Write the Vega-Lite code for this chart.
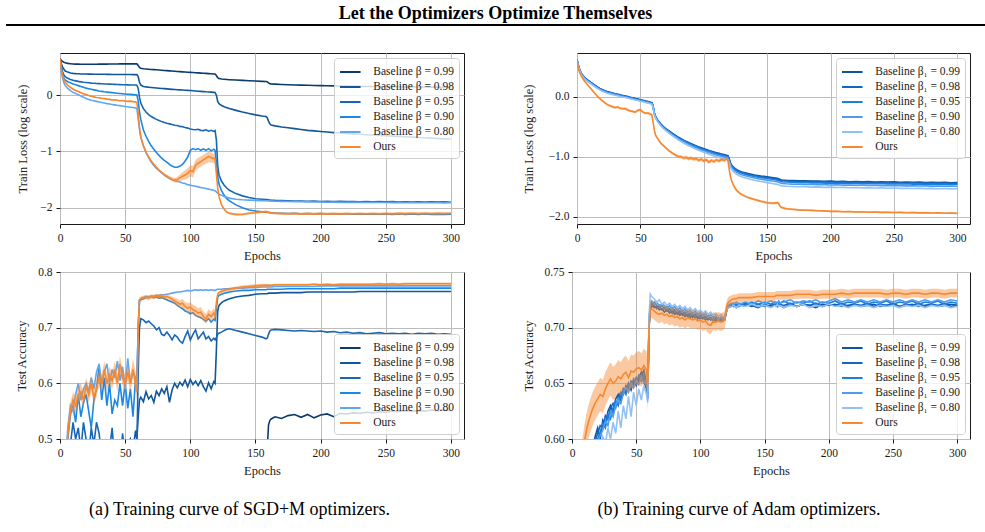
{
  "$schema": "https://vega.github.io/schema/vega-lite/v6.json",
  "padding": {"left": 6, "top": 5, "right": 0, "bottom": 0},
  "background": "white",
  "config": {
    "font": "Liberation Serif",
    "view": {"stroke": "#1a1a1a", "strokeWidth": 1},
    "axis": {"labelFont": "Liberation Serif", "labelFontSize": 11.5, "labelColor": "#1a1a1a", "titleFont": "Liberation Serif", "titleFontSize": 12.5, "titleFontWeight": "normal", "titleColor": "#1a1a1a", "gridColor": "#bcbcbc", "gridWidth": 1, "gridOpacity": 1, "domain": false, "tickColor": "#1a1a1a", "tickSize": 4, "tickWidth": 1, "labelPadding": 4, "titlePadding": 6},
    "axisX": {"labelFlush": false},
    "legend": {"labelFont": "Liberation Serif", "labelFontSize": 11.5, "labelColor": "#1a1a1a", "symbolType": "M-1.3,0H1.3", "symbolSize": 250, "symbolOffset": 2.3, "symbolStrokeWidth": 2, "fillColor": "rgba(255,255,255,0.8)", "strokeColor": "#cfcfcf", "cornerRadius": 3, "padding": 5, "rowPadding": 0, "labelOffset": 14, "offset": 5, "labelLimit": 0},
    "title": {"font": "Liberation Serif", "color": "#000"}
  },
  "resolve": {"scale": {"color": "independent"}, "legend": {"color": "independent"}},
  "datasets": {
    "tl": [
      {"e":0,"a":0.65,"b":0.65,"c":0.65,"d":0.65,"f":0.65,"o":0.65,"l":0.64,"h":0.66},
      {"e":1,"a":0.62,"b":0.56,"c":0.5,"d":0.46,"f":0.42,"o":0.46,"l":0.45,"h":0.47},
      {"e":2,"a":0.6,"b":0.5,"c":0.41,"d":0.36,"f":0.3,"o":0.35,"l":0.34,"h":0.36},
      {"e":3,"a":0.585,"b":0.46,"c":0.36,"d":0.3,"f":0.22,"o":0.28,"l":0.27,"h":0.29},
      {"e":4,"a":0.575,"b":0.43,"c":0.33,"d":0.27,"f":0.17,"o":0.23,"l":0.22,"h":0.24},
      {"e":6,"a":0.565,"b":0.41,"c":0.3,"d":0.24,"f":0.12,"o":0.18,"l":0.17,"h":0.19},
      {"e":8,"a":0.56,"b":0.395,"c":0.28,"d":0.22,"f":0.08,"o":0.14,"l":0.13,"h":0.15},
      {"e":10,"a":0.555,"b":0.388,"c":0.265,"d":0.2,"f":0.05,"o":0.11,"l":0.1,"h":0.12},
      {"e":12,"a":0.553,"b":0.383,"c":0.255,"d":0.185,"f":0.03,"o":0.085,"l":0.075,"h":0.095},
      {"e":14,"a":0.552,"b":0.38,"c":0.245,"d":0.17,"f":0.01,"o":0.065,"l":0.055,"h":0.075},
      {"e":16,"a":0.551,"b":0.378,"c":0.237,"d":0.155,"f":-0.015,"o":0.045,"l":0.035,"h":0.055},
      {"e":18,"a":0.551,"b":0.377,"c":0.23,"d":0.14,"f":-0.035,"o":0.025,"l":0.015,"h":0.035},
      {"e":20,"a":0.55,"b":0.376,"c":0.225,"d":0.125,"f":-0.06,"o":0.01,"l":0,"h":0.02},
      {"e":22,"a":0.55,"b":0.375,"c":0.22,"d":0.115,"f":-0.075,"o":-0.005,"l":-0.015,"h":0.005},
      {"e":24,"a":0.55,"b":0.374,"c":0.215,"d":0.105,"f":-0.09,"o":-0.02,"l":-0.03,"h":-0.01},
      {"e":26,"a":0.551,"b":0.373,"c":0.212,"d":0.095,"f":-0.1,"o":-0.03,"l":-0.04,"h":-0.02},
      {"e":28,"a":0.551,"b":0.372,"c":0.208,"d":0.085,"f":-0.11,"o":-0.04,"l":-0.05,"h":-0.03},
      {"e":30,"a":0.552,"b":0.372,"c":0.205,"d":0.075,"f":-0.12,"o":-0.045,"l":-0.055,"h":-0.035},
      {"e":32,"a":0.552,"b":0.371,"c":0.202,"d":0.068,"f":-0.13,"o":-0.055,"l":-0.065,"h":-0.045},
      {"e":34,"a":0.553,"b":0.371,"c":0.2,"d":0.06,"f":-0.14,"o":-0.06,"l":-0.07,"h":-0.05},
      {"e":36,"a":0.553,"b":0.37,"c":0.198,"d":0.055,"f":-0.15,"o":-0.07,"l":-0.08,"h":-0.06},
      {"e":38,"a":0.554,"b":0.37,"c":0.196,"d":0.05,"f":-0.157,"o":-0.075,"l":-0.085,"h":-0.065},
      {"e":40,"a":0.554,"b":0.369,"c":0.194,"d":0.045,"f":-0.165,"o":-0.085,"l":-0.095,"h":-0.075},
      {"e":42,"a":0.555,"b":0.369,"c":0.192,"d":0.04,"f":-0.172,"o":-0.08,"l":-0.09,"h":-0.07},
      {"e":44,"a":0.555,"b":0.368,"c":0.19,"d":0.035,"f":-0.18,"o":-0.09,"l":-0.1,"h":-0.08},
      {"e":46,"a":0.556,"b":0.368,"c":0.188,"d":0.03,"f":-0.186,"o":-0.1,"l":-0.11,"h":-0.09},
      {"e":48,"a":0.556,"b":0.368,"c":0.186,"d":0.026,"f":-0.192,"o":-0.095,"l":-0.105,"h":-0.085},
      {"e":50,"a":0.556,"b":0.367,"c":0.185,"d":0.022,"f":-0.2,"o":-0.105,"l":-0.115,"h":-0.095},
      {"e":52,"a":0.557,"b":0.367,"c":0.183,"d":0.018,"f":-0.206,"o":-0.11,"l":-0.12,"h":-0.1},
      {"e":54,"a":0.557,"b":0.367,"c":0.182,"d":0.014,"f":-0.213,"o":-0.105,"l":-0.115,"h":-0.095},
      {"e":56,"a":0.557,"b":0.366,"c":0.181,"d":0.01,"f":-0.22,"o":-0.115,"l":-0.125,"h":-0.105},
      {"e":58,"a":0.558,"b":0.366,"c":0.18,"d":0.006,"f":-0.228,"o":-0.12,"l":-0.13,"h":-0.11},
      {"e":59,"a":0.557,"b":0.365,"c":0.178,"d":0.003,"f":-0.235,"o":-0.13,"l":-0.14,"h":-0.12},
      {"e":60,"a":0.53,"b":0.33,"c":0.12,"d":-0.1,"f":-0.42,"o":-0.32,"l":-0.34,"h":-0.3},
      {"e":61,"a":0.495,"b":0.23,"c":-0.04,"d":-0.3,"f":-0.6,"o":-0.58,"l":-0.6,"h":-0.56},
      {"e":62,"a":0.478,"b":0.18,"c":-0.14,"d":-0.43,"f":-0.75,"o":-0.75,"l":-0.77,"h":-0.73},
      {"e":64,"a":0.47,"b":0.155,"c":-0.24,"d":-0.62,"f":-0.9,"o":-0.9,"l":-0.92,"h":-0.88},
      {"e":66,"a":0.466,"b":0.147,"c":-0.3,"d":-0.73,"f":-1.02,"o":-1.01,"l":-1.03,"h":-0.99},
      {"e":68,"a":0.462,"b":0.142,"c":-0.345,"d":-0.82,"f":-1.11,"o":-1.1,"l":-1.12,"h":-1.08},
      {"e":70,"a":0.458,"b":0.137,"c":-0.38,"d":-0.9,"f":-1.19,"o":-1.17,"l":-1.19,"h":-1.15},
      {"e":72,"a":0.455,"b":0.133,"c":-0.405,"d":-0.96,"f":-1.25,"o":-1.23,"l":-1.25,"h":-1.21},
      {"e":74,"a":0.451,"b":0.128,"c":-0.43,"d":-1.02,"f":-1.3,"o":-1.28,"l":-1.3,"h":-1.26},
      {"e":76,"a":0.448,"b":0.124,"c":-0.45,"d":-1.07,"f":-1.34,"o":-1.33,"l":-1.35,"h":-1.31},
      {"e":78,"a":0.444,"b":0.12,"c":-0.47,"d":-1.12,"f":-1.38,"o":-1.37,"l":-1.39,"h":-1.35},
      {"e":80,"a":0.44,"b":0.116,"c":-0.485,"d":-1.16,"f":-1.42,"o":-1.41,"l":-1.43,"h":-1.39},
      {"e":82,"a":0.437,"b":0.112,"c":-0.5,"d":-1.19,"f":-1.45,"o":-1.44,"l":-1.47,"h":-1.41},
      {"e":84,"a":0.433,"b":0.108,"c":-0.51,"d":-1.23,"f":-1.48,"o":-1.47,"l":-1.5,"h":-1.44},
      {"e":86,"a":0.43,"b":0.104,"c":-0.52,"d":-1.26,"f":-1.5,"o":-1.5,"l":-1.53,"h":-1.46},
      {"e":88,"a":0.426,"b":0.1,"c":-0.535,"d":-1.28,"f":-1.52,"o":-1.51,"l":-1.55,"h":-1.47},
      {"e":90,"a":0.422,"b":0.097,"c":-0.54,"d":-1.28,"f":-1.53,"o":-1.5,"l":-1.55,"h":-1.45},
      {"e":92,"a":0.419,"b":0.094,"c":-0.555,"d":-1.26,"f":-1.545,"o":-1.47,"l":-1.53,"h":-1.41},
      {"e":94,"a":0.415,"b":0.091,"c":-0.56,"d":-1.23,"f":-1.56,"o":-1.44,"l":-1.51,"h":-1.37},
      {"e":96,"a":0.412,"b":0.088,"c":-0.575,"d":-1.17,"f":-1.57,"o":-1.42,"l":-1.5,"h":-1.34},
      {"e":98,"a":0.408,"b":0.085,"c":-0.585,"d":-1.1,"f":-1.59,"o":-1.39,"l":-1.48,"h":-1.3},
      {"e":100,"a":0.405,"b":0.082,"c":-0.6,"d":-0.98,"f":-1.6,"o":-1.34,"l":-1.44,"h":-1.24},
      {"e":102,"a":0.402,"b":0.078,"c":-0.61,"d":-0.95,"f":-1.61,"o":-1.36,"l":-1.46,"h":-1.26},
      {"e":104,"a":0.399,"b":0.075,"c":-0.615,"d":-0.97,"f":-1.62,"o":-1.25,"l":-1.35,"h":-1.15},
      {"e":106,"a":0.396,"b":0.071,"c":-0.605,"d":-0.95,"f":-1.63,"o":-1.21,"l":-1.3,"h":-1.11},
      {"e":108,"a":0.393,"b":0.068,"c":-0.625,"d":-0.98,"f":-1.64,"o":-1.18,"l":-1.27,"h":-1.09},
      {"e":110,"a":0.39,"b":0.064,"c":-0.63,"d":-0.955,"f":-1.65,"o":-1.15,"l":-1.24,"h":-1.06},
      {"e":112,"a":0.387,"b":0.06,"c":-0.615,"d":-0.98,"f":-1.66,"o":-1.12,"l":-1.22,"h":-1.03},
      {"e":114,"a":0.384,"b":0.057,"c":-0.64,"d":-0.95,"f":-1.67,"o":-1.09,"l":-1.19,"h":-1.0},
      {"e":116,"a":0.381,"b":0.054,"c":-0.625,"d":-0.99,"f":-1.68,"o":-1.11,"l":-1.2,"h":-1.02},
      {"e":118,"a":0.378,"b":0.05,"c":-0.645,"d":-0.96,"f":-1.69,"o":-1.12,"l":-1.2,"h":-1.04},
      {"e":119,"a":0.376,"b":0.048,"c":-0.63,"d":-0.98,"f":-1.7,"o":-1.14,"l":-1.22,"h":-1.06},
      {"e":120,"a":0.35,"b":0,"c":-0.8,"d":-1.2,"f":-1.72,"o":-1.4,"l":-1.44,"h":-1.36},
      {"e":121,"a":0.31,"b":-0.11,"c":-1.25,"d":-1.45,"f":-1.74,"o":-1.65,"l":-1.68,"h":-1.62},
      {"e":122,"a":0.295,"b":-0.15,"c":-1.42,"d":-1.58,"f":-1.76,"o":-1.8,"l":-1.82,"h":-1.78},
      {"e":124,"a":0.287,"b":-0.185,"c":-1.53,"d":-1.7,"f":-1.78,"o":-1.95,"l":-1.97,"h":-1.93},
      {"e":126,"a":0.282,"b":-0.205,"c":-1.6,"d":-1.78,"f":-1.8,"o":-2.03,"l":-2.05,"h":-2.01},
      {"e":128,"a":0.278,"b":-0.222,"c":-1.65,"d":-1.84,"f":-1.815,"o":-2.08,"l":-2.1,"h":-2.06},
      {"e":130,"a":0.275,"b":-0.238,"c":-1.69,"d":-1.88,"f":-1.83,"o":-2.1,"l":-2.12,"h":-2.08},
      {"e":135,"a":0.27,"b":-0.27,"c":-1.75,"d":-1.95,"f":-1.85,"o":-2.12,"l":-2.14,"h":-2.1},
      {"e":140,"a":0.263,"b":-0.3,"c":-1.79,"d":-2.0,"f":-1.86,"o":-2.12,"l":-2.14,"h":-2.1},
      {"e":145,"a":0.257,"b":-0.325,"c":-1.82,"d":-2.04,"f":-1.865,"o":-2.1,"l":-2.12,"h":-2.08},
      {"e":150,"a":0.251,"b":-0.35,"c":-1.84,"d":-2.06,"f":-1.87,"o":-2.09,"l":-2.11,"h":-2.07},
      {"e":155,"a":0.245,"b":-0.37,"c":-1.85,"d":-2.075,"f":-1.875,"o":-2.075,"l":-2.095,"h":-2.055},
      {"e":158,"a":0.242,"b":-0.38,"c":-1.855,"d":-2.08,"f":-1.878,"o":-2.07,"l":-2.09,"h":-2.05},
      {"e":159,"a":0.238,"b":-0.4,"c":-1.857,"d":-2.083,"f":-1.88,"o":-2.075,"l":-2.095,"h":-2.055},
      {"e":160,"a":0.22,"b":-0.46,"c":-1.86,"d":-2.085,"f":-1.88,"o":-2.08,"l":-2.1,"h":-2.06},
      {"e":161,"a":0.205,"b":-0.51,"c":-1.862,"d":-2.087,"f":-1.882,"o":-2.088,"l":-2.108,"h":-2.068},
      {"e":162,"a":0.2,"b":-0.53,"c":-1.864,"d":-2.09,"f":-1.883,"o":-2.095,"l":-2.115,"h":-2.075},
      {"e":165,"a":0.196,"b":-0.545,"c":-1.868,"d":-2.095,"f":-1.885,"o":-2.1,"l":-2.12,"h":-2.08},
      {"e":170,"a":0.19,"b":-0.565,"c":-1.872,"d":-2.1,"f":-1.888,"o":-2.105,"l":-2.125,"h":-2.085},
      {"e":175,"a":0.186,"b":-0.58,"c":-1.876,"d":-2.104,"f":-1.89,"o":-2.108,"l":-2.128,"h":-2.088},
      {"e":180,"a":0.182,"b":-0.595,"c":-1.88,"d":-2.1,"f":-1.893,"o":-2.105,"l":-2.125,"h":-2.085},
      {"e":185,"a":0.179,"b":-0.61,"c":-1.883,"d":-2.108,"f":-1.895,"o":-2.11,"l":-2.13,"h":-2.09},
      {"e":190,"a":0.176,"b":-0.625,"c":-1.886,"d":-2.104,"f":-1.897,"o":-2.106,"l":-2.126,"h":-2.086},
      {"e":195,"a":0.173,"b":-0.635,"c":-1.884,"d":-2.11,"f":-1.9,"o":-2.11,"l":-2.13,"h":-2.09},
      {"e":200,"a":0.17,"b":-0.645,"c":-1.89,"d":-2.106,"f":-1.9,"o":-2.105,"l":-2.125,"h":-2.085},
      {"e":205,"a":0.168,"b":-0.655,"c":-1.886,"d":-2.112,"f":-1.903,"o":-2.11,"l":-2.13,"h":-2.09},
      {"e":210,"a":0.165,"b":-0.665,"c":-1.892,"d":-2.108,"f":-1.902,"o":-2.106,"l":-2.126,"h":-2.086},
      {"e":215,"a":0.163,"b":-0.673,"c":-1.888,"d":-2.114,"f":-1.905,"o":-2.11,"l":-2.13,"h":-2.09},
      {"e":220,"a":0.161,"b":-0.68,"c":-1.893,"d":-2.108,"f":-1.903,"o":-2.104,"l":-2.124,"h":-2.084},
      {"e":225,"a":0.159,"b":-0.688,"c":-1.89,"d":-2.115,"f":-1.906,"o":-2.108,"l":-2.128,"h":-2.088},
      {"e":230,"a":0.157,"b":-0.695,"c":-1.895,"d":-2.11,"f":-1.904,"o":-2.105,"l":-2.125,"h":-2.085},
      {"e":235,"a":0.155,"b":-0.702,"c":-1.89,"d":-2.116,"f":-1.908,"o":-2.109,"l":-2.129,"h":-2.089},
      {"e":240,"a":0.154,"b":-0.708,"c":-1.896,"d":-2.11,"f":-1.906,"o":-2.104,"l":-2.124,"h":-2.084},
      {"e":245,"a":0.152,"b":-0.715,"c":-1.892,"d":-2.117,"f":-1.909,"o":-2.108,"l":-2.128,"h":-2.088},
      {"e":250,"a":0.151,"b":-0.72,"c":-1.897,"d":-2.111,"f":-1.907,"o":-2.103,"l":-2.123,"h":-2.083},
      {"e":255,"a":0.15,"b":-0.727,"c":-1.893,"d":-2.118,"f":-1.91,"o":-2.107,"l":-2.127,"h":-2.087},
      {"e":260,"a":0.149,"b":-0.733,"c":-1.898,"d":-2.112,"f":-1.908,"o":-2.102,"l":-2.122,"h":-2.082},
      {"e":265,"a":0.148,"b":-0.74,"c":-1.894,"d":-2.118,"f":-1.911,"o":-2.106,"l":-2.126,"h":-2.086},
      {"e":270,"a":0.147,"b":-0.745,"c":-1.899,"d":-2.113,"f":-1.909,"o":-2.1,"l":-2.12,"h":-2.08},
      {"e":275,"a":0.146,"b":-0.752,"c":-1.895,"d":-2.119,"f":-1.912,"o":-2.105,"l":-2.125,"h":-2.085},
      {"e":280,"a":0.145,"b":-0.758,"c":-1.9,"d":-2.113,"f":-1.91,"o":-2.1,"l":-2.12,"h":-2.08},
      {"e":285,"a":0.144,"b":-0.764,"c":-1.896,"d":-2.12,"f":-1.913,"o":-2.104,"l":-2.124,"h":-2.084},
      {"e":290,"a":0.143,"b":-0.77,"c":-1.901,"d":-2.114,"f":-1.911,"o":-2.099,"l":-2.119,"h":-2.079},
      {"e":295,"a":0.142,"b":-0.776,"c":-1.897,"d":-2.12,"f":-1.914,"o":-2.103,"l":-2.123,"h":-2.083},
      {"e":300,"a":0.141,"b":-0.78,"c":-1.902,"d":-2.115,"f":-1.912,"o":-2.1,"l":-2.12,"h":-2.08}
    ],
    "tr": [
      {"e":0,"a":0.62,"b":0.62,"c":0.615,"d":0.61,"f":0.6,"o":0.6,"l":0.59,"h":0.61},
      {"e":1,"a":0.53,"b":0.525,"c":0.52,"d":0.515,"f":0.51,"o":0.48,"l":0.47,"h":0.49},
      {"e":2,"a":0.46,"b":0.455,"c":0.45,"d":0.445,"f":0.44,"o":0.41,"l":0.4,"h":0.42},
      {"e":3,"a":0.41,"b":0.405,"c":0.4,"d":0.395,"f":0.39,"o":0.36,"l":0.35,"h":0.37},
      {"e":4,"a":0.37,"b":0.365,"c":0.36,"d":0.355,"f":0.35,"o":0.32,"l":0.31,"h":0.33},
      {"e":6,"a":0.32,"b":0.315,"c":0.31,"d":0.305,"f":0.3,"o":0.26,"l":0.25,"h":0.27},
      {"e":8,"a":0.285,"b":0.28,"c":0.275,"d":0.27,"f":0.262,"o":0.21,"l":0.2,"h":0.22},
      {"e":10,"a":0.255,"b":0.25,"c":0.245,"d":0.238,"f":0.23,"o":0.16,"l":0.15,"h":0.17},
      {"e":12,"a":0.225,"b":0.22,"c":0.215,"d":0.208,"f":0.2,"o":0.11,"l":0.095,"h":0.125},
      {"e":14,"a":0.195,"b":0.19,"c":0.185,"d":0.178,"f":0.17,"o":0.06,"l":0.045,"h":0.075},
      {"e":16,"a":0.165,"b":0.16,"c":0.155,"d":0.148,"f":0.14,"o":0.01,"l":-0.005,"h":0.025},
      {"e":18,"a":0.14,"b":0.135,"c":0.13,"d":0.123,"f":0.115,"o":-0.03,"l":-0.045,"h":-0.015},
      {"e":20,"a":0.118,"b":0.113,"c":0.108,"d":0.101,"f":0.093,"o":-0.07,"l":-0.085,"h":-0.055},
      {"e":22,"a":0.1,"b":0.095,"c":0.09,"d":0.083,"f":0.075,"o":-0.1,"l":-0.12,"h":-0.08},
      {"e":24,"a":0.086,"b":0.081,"c":0.076,"d":0.069,"f":0.06,"o":-0.13,"l":-0.15,"h":-0.11},
      {"e":26,"a":0.074,"b":0.069,"c":0.064,"d":0.057,"f":0.048,"o":-0.15,"l":-0.17,"h":-0.13},
      {"e":28,"a":0.062,"b":0.057,"c":0.052,"d":0.045,"f":0.036,"o":-0.165,"l":-0.185,"h":-0.145},
      {"e":30,"a":0.052,"b":0.047,"c":0.042,"d":0.035,"f":0.026,"o":-0.18,"l":-0.2,"h":-0.16},
      {"e":32,"a":0.042,"b":0.037,"c":0.032,"d":0.025,"f":0.016,"o":-0.17,"l":-0.19,"h":-0.15},
      {"e":34,"a":0.032,"b":0.027,"c":0.022,"d":0.015,"f":0.006,"o":-0.19,"l":-0.21,"h":-0.17},
      {"e":36,"a":0.023,"b":0.018,"c":0.013,"d":0.006,"f":-0.003,"o":-0.2,"l":-0.22,"h":-0.18},
      {"e":38,"a":0.014,"b":0.009,"c":0.004,"d":-0.003,"f":-0.012,"o":-0.195,"l":-0.215,"h":-0.175},
      {"e":40,"a":0.005,"b":0,"c":-0.005,"d":-0.012,"f":-0.021,"o":-0.22,"l":-0.24,"h":-0.2},
      {"e":42,"a":-0.006,"b":-0.011,"c":-0.016,"d":-0.023,"f":-0.032,"o":-0.235,"l":-0.255,"h":-0.215},
      {"e":44,"a":-0.016,"b":-0.021,"c":-0.026,"d":-0.033,"f":-0.042,"o":-0.245,"l":-0.265,"h":-0.225},
      {"e":46,"a":-0.027,"b":-0.032,"c":-0.037,"d":-0.044,"f":-0.053,"o":-0.255,"l":-0.275,"h":-0.235},
      {"e":48,"a":-0.037,"b":-0.042,"c":-0.047,"d":-0.054,"f":-0.063,"o":-0.225,"l":-0.245,"h":-0.205},
      {"e":50,"a":-0.048,"b":-0.053,"c":-0.058,"d":-0.065,"f":-0.074,"o":-0.215,"l":-0.235,"h":-0.195},
      {"e":52,"a":-0.058,"b":-0.063,"c":-0.068,"d":-0.075,"f":-0.084,"o":-0.255,"l":-0.275,"h":-0.235},
      {"e":54,"a":-0.069,"b":-0.074,"c":-0.079,"d":-0.086,"f":-0.095,"o":-0.275,"l":-0.295,"h":-0.255},
      {"e":56,"a":-0.079,"b":-0.084,"c":-0.089,"d":-0.096,"f":-0.105,"o":-0.27,"l":-0.29,"h":-0.25},
      {"e":58,"a":-0.09,"b":-0.095,"c":-0.1,"d":-0.107,"f":-0.116,"o":-0.29,"l":-0.31,"h":-0.27},
      {"e":59,"a":-0.095,"b":-0.1,"c":-0.105,"d":-0.112,"f":-0.121,"o":-0.3,"l":-0.32,"h":-0.28},
      {"e":60,"a":-0.15,"b":-0.155,"c":-0.16,"d":-0.167,"f":-0.176,"o":-0.42,"l":-0.44,"h":-0.4},
      {"e":61,"a":-0.27,"b":-0.275,"c":-0.28,"d":-0.287,"f":-0.296,"o":-0.56,"l":-0.58,"h":-0.54},
      {"e":62,"a":-0.33,"b":-0.335,"c":-0.34,"d":-0.347,"f":-0.357,"o":-0.64,"l":-0.66,"h":-0.62},
      {"e":64,"a":-0.4,"b":-0.405,"c":-0.41,"d":-0.418,"f":-0.43,"o":-0.71,"l":-0.73,"h":-0.69},
      {"e":66,"a":-0.45,"b":-0.455,"c":-0.461,"d":-0.469,"f":-0.482,"o":-0.77,"l":-0.79,"h":-0.75},
      {"e":68,"a":-0.495,"b":-0.5,"c":-0.506,"d":-0.515,"f":-0.528,"o":-0.81,"l":-0.83,"h":-0.79},
      {"e":70,"a":-0.53,"b":-0.536,"c":-0.542,"d":-0.551,"f":-0.565,"o":-0.85,"l":-0.87,"h":-0.83},
      {"e":72,"a":-0.56,"b":-0.566,"c":-0.572,"d":-0.582,"f":-0.597,"o":-0.89,"l":-0.91,"h":-0.87},
      {"e":74,"a":-0.59,"b":-0.596,"c":-0.603,"d":-0.613,"f":-0.629,"o":-0.92,"l":-0.94,"h":-0.9},
      {"e":76,"a":-0.62,"b":-0.626,"c":-0.633,"d":-0.644,"f":-0.66,"o":-0.95,"l":-0.97,"h":-0.93},
      {"e":78,"a":-0.648,"b":-0.654,"c":-0.662,"d":-0.673,"f":-0.69,"o":-0.975,"l":-1.0,"h":-0.95},
      {"e":80,"a":-0.675,"b":-0.681,"c":-0.689,"d":-0.701,"f":-0.719,"o":-0.995,"l":-1.02,"h":-0.97},
      {"e":82,"a":-0.7,"b":-0.707,"c":-0.715,"d":-0.727,"f":-0.746,"o":-1.0,"l":-1.03,"h":-0.97},
      {"e":84,"a":-0.722,"b":-0.729,"c":-0.737,"d":-0.75,"f":-0.77,"o":-1.02,"l":-1.05,"h":-0.99},
      {"e":86,"a":-0.743,"b":-0.75,"c":-0.759,"d":-0.772,"f":-0.793,"o":-1.01,"l":-1.04,"h":-0.98},
      {"e":88,"a":-0.763,"b":-0.77,"c":-0.779,"d":-0.793,"f":-0.815,"o":-1.03,"l":-1.06,"h":-1.0},
      {"e":90,"a":-0.782,"b":-0.789,"c":-0.798,"d":-0.813,"f":-0.835,"o":-1.02,"l":-1.05,"h":-0.99},
      {"e":92,"a":-0.8,"b":-0.807,"c":-0.817,"d":-0.832,"f":-0.855,"o":-1.04,"l":-1.07,"h":-1.01},
      {"e":94,"a":-0.818,"b":-0.825,"c":-0.835,"d":-0.85,"f":-0.874,"o":-1.03,"l":-1.06,"h":-1.0},
      {"e":96,"a":-0.835,"b":-0.842,"c":-0.852,"d":-0.868,"f":-0.892,"o":-1.06,"l":-1.09,"h":-1.03},
      {"e":98,"a":-0.851,"b":-0.858,"c":-0.868,"d":-0.885,"f":-0.909,"o":-1.04,"l":-1.07,"h":-1.01},
      {"e":100,"a":-0.866,"b":-0.874,"c":-0.884,"d":-0.901,"f":-0.926,"o":-1.07,"l":-1.1,"h":-1.04},
      {"e":102,"a":-0.88,"b":-0.888,"c":-0.899,"d":-0.916,"f":-0.942,"o":-1.05,"l":-1.08,"h":-1.02},
      {"e":104,"a":-0.894,"b":-0.902,"c":-0.913,"d":-0.93,"f":-0.957,"o":-1.09,"l":-1.12,"h":-1.06},
      {"e":106,"a":-0.907,"b":-0.915,"c":-0.926,"d":-0.944,"f":-0.971,"o":-1.06,"l":-1.09,"h":-1.03},
      {"e":108,"a":-0.92,"b":-0.928,"c":-0.939,"d":-0.957,"f":-0.985,"o":-1.08,"l":-1.11,"h":-1.05},
      {"e":110,"a":-0.932,"b":-0.94,"c":-0.951,"d":-0.97,"f":-0.998,"o":-1.05,"l":-1.08,"h":-1.02},
      {"e":112,"a":-0.943,"b":-0.951,"c":-0.963,"d":-0.982,"f":-1.01,"o":-1.07,"l":-1.1,"h":-1.04},
      {"e":114,"a":-0.954,"b":-0.962,"c":-0.974,"d":-0.993,"f":-1.022,"o":-1.045,"l":-1.075,"h":-1.015},
      {"e":116,"a":-0.964,"b":-0.972,"c":-0.984,"d":-1.004,"f":-1.033,"o":-1.06,"l":-1.09,"h":-1.03},
      {"e":118,"a":-0.974,"b":-0.982,"c":-0.994,"d":-1.014,"f":-1.044,"o":-1.035,"l":-1.065,"h":-1.005},
      {"e":119,"a":-0.978,"b":-0.986,"c":-0.998,"d":-1.018,"f":-1.048,"o":-1.05,"l":-1.08,"h":-1.02},
      {"e":120,"a":-1.03,"b":-1.038,"c":-1.05,"d":-1.07,"f":-1.1,"o":-1.2,"l":-1.23,"h":-1.17},
      {"e":121,"a":-1.1,"b":-1.108,"c":-1.12,"d":-1.14,"f":-1.17,"o":-1.33,"l":-1.36,"h":-1.3},
      {"e":122,"a":-1.14,"b":-1.149,"c":-1.161,"d":-1.182,"f":-1.213,"o":-1.4,"l":-1.43,"h":-1.37},
      {"e":124,"a":-1.185,"b":-1.194,"c":-1.207,"d":-1.228,"f":-1.26,"o":-1.5,"l":-1.52,"h":-1.48},
      {"e":126,"a":-1.215,"b":-1.224,"c":-1.237,"d":-1.259,"f":-1.292,"o":-1.56,"l":-1.58,"h":-1.54},
      {"e":128,"a":-1.236,"b":-1.245,"c":-1.259,"d":-1.281,"f":-1.315,"o":-1.6,"l":-1.62,"h":-1.58},
      {"e":130,"a":-1.252,"b":-1.262,"c":-1.276,"d":-1.299,"f":-1.334,"o":-1.63,"l":-1.65,"h":-1.61},
      {"e":135,"a":-1.28,"b":-1.29,"c":-1.305,"d":-1.329,"f":-1.366,"o":-1.68,"l":-1.7,"h":-1.66},
      {"e":140,"a":-1.302,"b":-1.313,"c":-1.328,"d":-1.353,"f":-1.391,"o":-1.71,"l":-1.73,"h":-1.69},
      {"e":145,"a":-1.32,"b":-1.331,"c":-1.347,"d":-1.373,"f":-1.412,"o":-1.74,"l":-1.76,"h":-1.72},
      {"e":150,"a":-1.335,"b":-1.346,"c":-1.363,"d":-1.39,"f":-1.43,"o":-1.765,"l":-1.785,"h":-1.745},
      {"e":155,"a":-1.35,"b":-1.362,"c":-1.379,"d":-1.407,"f":-1.448,"o":-1.775,"l":-1.795,"h":-1.755},
      {"e":158,"a":-1.36,"b":-1.372,"c":-1.389,"d":-1.417,"f":-1.459,"o":-1.765,"l":-1.785,"h":-1.745},
      {"e":159,"a":-1.365,"b":-1.377,"c":-1.394,"d":-1.422,"f":-1.464,"o":-1.775,"l":-1.795,"h":-1.755},
      {"e":160,"a":-1.375,"b":-1.387,"c":-1.404,"d":-1.432,"f":-1.474,"o":-1.815,"l":-1.835,"h":-1.795},
      {"e":161,"a":-1.382,"b":-1.394,"c":-1.411,"d":-1.439,"f":-1.481,"o":-1.84,"l":-1.86,"h":-1.82},
      {"e":162,"a":-1.386,"b":-1.398,"c":-1.415,"d":-1.443,"f":-1.485,"o":-1.85,"l":-1.87,"h":-1.83},
      {"e":165,"a":-1.392,"b":-1.404,"c":-1.421,"d":-1.449,"f":-1.491,"o":-1.865,"l":-1.885,"h":-1.845},
      {"e":170,"a":-1.396,"b":-1.41,"c":-1.424,"d":-1.455,"f":-1.496,"o":-1.875,"l":-1.89,"h":-1.86},
      {"e":175,"a":-1.402,"b":-1.412,"c":-1.43,"d":-1.458,"f":-1.5,"o":-1.885,"l":-1.9,"h":-1.87},
      {"e":180,"a":-1.399,"b":-1.416,"c":-1.428,"d":-1.462,"f":-1.497,"o":-1.89,"l":-1.905,"h":-1.875},
      {"e":185,"a":-1.406,"b":-1.414,"c":-1.435,"d":-1.46,"f":-1.505,"o":-1.893,"l":-1.908,"h":-1.878},
      {"e":190,"a":-1.403,"b":-1.42,"c":-1.432,"d":-1.466,"f":-1.502,"o":-1.9,"l":-1.915,"h":-1.885},
      {"e":195,"a":-1.41,"b":-1.418,"c":-1.438,"d":-1.463,"f":-1.509,"o":-1.902,"l":-1.917,"h":-1.887},
      {"e":200,"a":-1.406,"b":-1.423,"c":-1.435,"d":-1.469,"f":-1.506,"o":-1.91,"l":-1.925,"h":-1.895},
      {"e":205,"a":-1.413,"b":-1.42,"c":-1.441,"d":-1.466,"f":-1.512,"o":-1.908,"l":-1.923,"h":-1.893},
      {"e":210,"a":-1.409,"b":-1.426,"c":-1.438,"d":-1.472,"f":-1.509,"o":-1.915,"l":-1.93,"h":-1.9},
      {"e":215,"a":-1.416,"b":-1.423,"c":-1.444,"d":-1.469,"f":-1.515,"o":-1.913,"l":-1.928,"h":-1.898},
      {"e":220,"a":-1.412,"b":-1.429,"c":-1.441,"d":-1.475,"f":-1.512,"o":-1.92,"l":-1.935,"h":-1.905},
      {"e":225,"a":-1.418,"b":-1.426,"c":-1.447,"d":-1.472,"f":-1.518,"o":-1.917,"l":-1.932,"h":-1.902},
      {"e":230,"a":-1.414,"b":-1.431,"c":-1.444,"d":-1.478,"f":-1.515,"o":-1.923,"l":-1.938,"h":-1.908},
      {"e":235,"a":-1.42,"b":-1.428,"c":-1.449,"d":-1.475,"f":-1.521,"o":-1.92,"l":-1.935,"h":-1.905},
      {"e":240,"a":-1.416,"b":-1.433,"c":-1.446,"d":-1.481,"f":-1.518,"o":-1.926,"l":-1.941,"h":-1.911},
      {"e":245,"a":-1.422,"b":-1.43,"c":-1.452,"d":-1.477,"f":-1.524,"o":-1.923,"l":-1.938,"h":-1.908},
      {"e":250,"a":-1.418,"b":-1.435,"c":-1.448,"d":-1.483,"f":-1.52,"o":-1.929,"l":-1.944,"h":-1.914},
      {"e":255,"a":-1.424,"b":-1.432,"c":-1.454,"d":-1.48,"f":-1.526,"o":-1.926,"l":-1.941,"h":-1.911},
      {"e":260,"a":-1.42,"b":-1.437,"c":-1.45,"d":-1.485,"f":-1.523,"o":-1.932,"l":-1.947,"h":-1.917},
      {"e":265,"a":-1.426,"b":-1.434,"c":-1.456,"d":-1.482,"f":-1.529,"o":-1.929,"l":-1.944,"h":-1.914},
      {"e":270,"a":-1.422,"b":-1.439,"c":-1.452,"d":-1.487,"f":-1.525,"o":-1.935,"l":-1.95,"h":-1.92},
      {"e":275,"a":-1.428,"b":-1.436,"c":-1.458,"d":-1.484,"f":-1.531,"o":-1.932,"l":-1.947,"h":-1.917},
      {"e":280,"a":-1.424,"b":-1.441,"c":-1.454,"d":-1.489,"f":-1.527,"o":-1.937,"l":-1.952,"h":-1.922},
      {"e":285,"a":-1.43,"b":-1.438,"c":-1.46,"d":-1.486,"f":-1.533,"o":-1.934,"l":-1.949,"h":-1.919},
      {"e":290,"a":-1.426,"b":-1.443,"c":-1.456,"d":-1.491,"f":-1.529,"o":-1.94,"l":-1.955,"h":-1.925},
      {"e":295,"a":-1.432,"b":-1.44,"c":-1.462,"d":-1.488,"f":-1.535,"o":-1.937,"l":-1.952,"h":-1.922},
      {"e":300,"a":-1.428,"b":-1.445,"c":-1.458,"d":-1.492,"f":-1.531,"o":-1.942,"l":-1.957,"h":-1.927}
    ],
    "bl": [
      {"e":0,"a":0.1,"b":0.1,"c":0.15,"d":0.2,"f":0.2,"o":0.2,"l":0.19,"h":0.21},
      {"e":1,"a":0.1,"b":0.12,"c":0.2,"d":0.25,"f":0.26,"o":0.25,"l":0.24,"h":0.26},
      {"e":2,"a":0.1,"b":0.15,"c":0.25,"d":0.3,"f":0.32,"o":0.3,"l":0.29,"h":0.31},
      {"e":3,"a":0.11,"b":0.17,"c":0.3,"d":0.36,"f":0.39,"o":0.36,"l":0.35,"h":0.37},
      {"e":4,"a":0.12,"b":0.2,"c":0.35,"d":0.42,"f":0.45,"o":0.42,"l":0.41,"h":0.43},
      {"e":6,"a":0.13,"b":0.25,"c":0.45,"d":0.5,"f":0.52,"o":0.51,"l":0.49,"h":0.53},
      {"e":8,"a":0.14,"b":0.3,"c":0.49,"d":0.545,"f":0.56,"o":0.55,"l":0.535,"h":0.565},
      {"e":10,"a":0.15,"b":0.33,"c":0.53,"d":0.56,"f":0.55,"o":0.57,"l":0.555,"h":0.585},
      {"e":12,"a":0.16,"b":0.36,"c":0.5,"d":0.53,"f":0.58,"o":0.56,"l":0.545,"h":0.575},
      {"e":14,"a":0.17,"b":0.35,"c":0.52,"d":0.58,"f":0.6,"o":0.58,"l":0.565,"h":0.595},
      {"e":16,"a":0.18,"b":0.38,"c":0.48,"d":0.54,"f":0.57,"o":0.585,"l":0.57,"h":0.6},
      {"e":18,"a":0.19,"b":0.4,"c":0.53,"d":0.565,"f":0.59,"o":0.57,"l":0.555,"h":0.585},
      {"e":20,"a":0.2,"b":0.39,"c":0.5,"d":0.58,"f":0.6,"o":0.595,"l":0.58,"h":0.61},
      {"e":22,"a":0.21,"b":0.42,"c":0.47,"d":0.55,"f":0.585,"o":0.58,"l":0.565,"h":0.595},
      {"e":24,"a":0.22,"b":0.41,"c":0.52,"d":0.52,"f":0.61,"o":0.6,"l":0.585,"h":0.615},
      {"e":26,"a":0.23,"b":0.43,"c":0.49,"d":0.57,"f":0.59,"o":0.575,"l":0.56,"h":0.59},
      {"e":28,"a":0.24,"b":0.42,"c":0.53,"d":0.59,"f":0.62,"o":0.59,"l":0.575,"h":0.605},
      {"e":30,"a":0.25,"b":0.44,"c":0.51,"d":0.63,"f":0.635,"o":0.61,"l":0.595,"h":0.625},
      {"e":32,"a":0.26,"b":0.45,"c":0.47,"d":0.57,"f":0.6,"o":0.6,"l":0.585,"h":0.615},
      {"e":34,"a":0.27,"b":0.43,"c":0.5,"d":0.61,"f":0.62,"o":0.625,"l":0.61,"h":0.64},
      {"e":36,"a":0.28,"b":0.46,"c":0.45,"d":0.56,"f":0.635,"o":0.6,"l":0.585,"h":0.615},
      {"e":38,"a":0.29,"b":0.44,"c":0.48,"d":0.6,"f":0.6,"o":0.615,"l":0.6,"h":0.63},
      {"e":40,"a":0.3,"b":0.47,"c":0.52,"d":0.545,"f":0.625,"o":0.605,"l":0.59,"h":0.62},
      {"e":42,"a":0.31,"b":0.45,"c":0.46,"d":0.57,"f":0.61,"o":0.625,"l":0.61,"h":0.64},
      {"e":44,"a":0.32,"b":0.48,"c":0.49,"d":0.56,"f":0.64,"o":0.6,"l":0.585,"h":0.615},
      {"e":46,"a":0.33,"b":0.46,"c":0.44,"d":0.6,"f":0.605,"o":0.635,"l":0.62,"h":0.65},
      {"e":48,"a":0.34,"b":0.5,"c":0.51,"d":0.56,"f":0.63,"o":0.61,"l":0.595,"h":0.625},
      {"e":50,"a":0.35,"b":0.47,"c":0.47,"d":0.6,"f":0.59,"o":0.6,"l":0.585,"h":0.615},
      {"e":52,"a":0.36,"b":0.49,"c":0.43,"d":0.555,"f":0.645,"o":0.62,"l":0.605,"h":0.635},
      {"e":54,"a":0.37,"b":0.5,"c":0.48,"d":0.59,"f":0.6,"o":0.6,"l":0.585,"h":0.615},
      {"e":56,"a":0.38,"b":0.48,"c":0.45,"d":0.54,"f":0.62,"o":0.625,"l":0.61,"h":0.645},
      {"e":58,"a":0.39,"b":0.515,"c":0.5,"d":0.61,"f":0.61,"o":0.6,"l":0.585,"h":0.62},
      {"e":59,"a":0.39,"b":0.5,"c":0.49,"d":0.6,"f":0.6,"o":0.585,"l":0.57,"h":0.6},
      {"e":60,"a":0.39,"b":0.54,"c":0.62,"d":0.7,"f":0.7,"o":0.7,"l":0.69,"h":0.71},
      {"e":61,"a":0.39,"b":0.57,"c":0.7,"d":0.748,"f":0.75,"o":0.75,"l":0.745,"h":0.755},
      {"e":62,"a":0.39,"b":0.575,"c":0.716,"d":0.75,"f":0.752,"o":0.752,"l":0.748,"h":0.756},
      {"e":64,"a":0.39,"b":0.567,"c":0.714,"d":0.752,"f":0.754,"o":0.754,"l":0.75,"h":0.758},
      {"e":66,"a":0.39,"b":0.585,"c":0.709,"d":0.754,"f":0.756,"o":0.755,"l":0.751,"h":0.759},
      {"e":68,"a":0.39,"b":0.572,"c":0.712,"d":0.755,"f":0.756,"o":0.753,"l":0.749,"h":0.757},
      {"e":70,"a":0.39,"b":0.578,"c":0.707,"d":0.756,"f":0.757,"o":0.756,"l":0.752,"h":0.76},
      {"e":72,"a":0.39,"b":0.566,"c":0.703,"d":0.754,"f":0.757,"o":0.755,"l":0.751,"h":0.759},
      {"e":74,"a":0.39,"b":0.586,"c":0.696,"d":0.755,"f":0.758,"o":0.757,"l":0.753,"h":0.761},
      {"e":76,"a":0.39,"b":0.578,"c":0.7,"d":0.753,"f":0.758,"o":0.756,"l":0.752,"h":0.76},
      {"e":78,"a":0.39,"b":0.59,"c":0.688,"d":0.754,"f":0.759,"o":0.757,"l":0.753,"h":0.761},
      {"e":80,"a":0.39,"b":0.582,"c":0.686,"d":0.752,"f":0.759,"o":0.755,"l":0.751,"h":0.759},
      {"e":82,"a":0.39,"b":0.594,"c":0.692,"d":0.75,"f":0.76,"o":0.756,"l":0.752,"h":0.76},
      {"e":84,"a":0.39,"b":0.566,"c":0.686,"d":0.748,"f":0.761,"o":0.754,"l":0.75,"h":0.758},
      {"e":86,"a":0.39,"b":0.588,"c":0.678,"d":0.746,"f":0.762,"o":0.751,"l":0.746,"h":0.756},
      {"e":88,"a":0.39,"b":0.6,"c":0.687,"d":0.744,"f":0.763,"o":0.748,"l":0.742,"h":0.754},
      {"e":90,"a":0.39,"b":0.592,"c":0.683,"d":0.74,"f":0.764,"o":0.745,"l":0.738,"h":0.752},
      {"e":92,"a":0.39,"b":0.602,"c":0.676,"d":0.737,"f":0.764,"o":0.742,"l":0.735,"h":0.749},
      {"e":94,"a":0.39,"b":0.596,"c":0.672,"d":0.734,"f":0.765,"o":0.744,"l":0.736,"h":0.752},
      {"e":96,"a":0.39,"b":0.606,"c":0.684,"d":0.73,"f":0.766,"o":0.738,"l":0.73,"h":0.746},
      {"e":98,"a":0.39,"b":0.594,"c":0.694,"d":0.728,"f":0.767,"o":0.735,"l":0.726,"h":0.744},
      {"e":100,"a":0.39,"b":0.607,"c":0.678,"d":0.725,"f":0.766,"o":0.737,"l":0.728,"h":0.746},
      {"e":102,"a":0.39,"b":0.598,"c":0.688,"d":0.727,"f":0.767,"o":0.732,"l":0.723,"h":0.741},
      {"e":104,"a":0.39,"b":0.604,"c":0.696,"d":0.722,"f":0.768,"o":0.73,"l":0.721,"h":0.739},
      {"e":106,"a":0.39,"b":0.596,"c":0.68,"d":0.72,"f":0.767,"o":0.726,"l":0.717,"h":0.735},
      {"e":108,"a":0.39,"b":0.605,"c":0.686,"d":0.718,"f":0.768,"o":0.728,"l":0.719,"h":0.737},
      {"e":110,"a":0.39,"b":0.594,"c":0.692,"d":0.715,"f":0.767,"o":0.72,"l":0.711,"h":0.729},
      {"e":112,"a":0.39,"b":0.586,"c":0.68,"d":0.712,"f":0.768,"o":0.716,"l":0.707,"h":0.725},
      {"e":114,"a":0.39,"b":0.601,"c":0.684,"d":0.716,"f":0.767,"o":0.724,"l":0.715,"h":0.733},
      {"e":116,"a":0.39,"b":0.59,"c":0.676,"d":0.71,"f":0.768,"o":0.72,"l":0.711,"h":0.729},
      {"e":118,"a":0.39,"b":0.603,"c":0.681,"d":0.715,"f":0.767,"o":0.726,"l":0.717,"h":0.735},
      {"e":119,"a":0.39,"b":0.6,"c":0.678,"d":0.713,"f":0.767,"o":0.722,"l":0.713,"h":0.731},
      {"e":120,"a":0.39,"b":0.66,"c":0.682,"d":0.735,"f":0.768,"o":0.745,"l":0.74,"h":0.75},
      {"e":121,"a":0.39,"b":0.73,"c":0.688,"d":0.755,"f":0.769,"o":0.76,"l":0.757,"h":0.763},
      {"e":122,"a":0.39,"b":0.74,"c":0.69,"d":0.758,"f":0.769,"o":0.763,"l":0.76,"h":0.766},
      {"e":124,"a":0.39,"b":0.745,"c":0.692,"d":0.76,"f":0.769,"o":0.765,"l":0.762,"h":0.768},
      {"e":126,"a":0.39,"b":0.748,"c":0.695,"d":0.762,"f":0.77,"o":0.767,"l":0.764,"h":0.77},
      {"e":128,"a":0.39,"b":0.75,"c":0.697,"d":0.763,"f":0.77,"o":0.768,"l":0.765,"h":0.771},
      {"e":130,"a":0.39,"b":0.752,"c":0.698,"d":0.764,"f":0.77,"o":0.769,"l":0.766,"h":0.772},
      {"e":135,"a":0.39,"b":0.755,"c":0.695,"d":0.766,"f":0.771,"o":0.771,"l":0.768,"h":0.774},
      {"e":140,"a":0.39,"b":0.757,"c":0.692,"d":0.767,"f":0.771,"o":0.773,"l":0.77,"h":0.776},
      {"e":145,"a":0.39,"b":0.758,"c":0.689,"d":0.767,"f":0.772,"o":0.774,"l":0.771,"h":0.777},
      {"e":150,"a":0.39,"b":0.76,"c":0.686,"d":0.768,"f":0.772,"o":0.775,"l":0.772,"h":0.778},
      {"e":155,"a":0.4,"b":0.761,"c":0.683,"d":0.768,"f":0.773,"o":0.776,"l":0.773,"h":0.779},
      {"e":158,"a":0.42,"b":0.761,"c":0.68,"d":0.768,"f":0.773,"o":0.776,"l":0.773,"h":0.779},
      {"e":159,"a":0.48,"b":0.761,"c":0.681,"d":0.769,"f":0.773,"o":0.776,"l":0.773,"h":0.779},
      {"e":160,"a":0.525,"b":0.762,"c":0.688,"d":0.769,"f":0.773,"o":0.776,"l":0.773,"h":0.779},
      {"e":161,"a":0.533,"b":0.762,"c":0.694,"d":0.769,"f":0.773,"o":0.776,"l":0.774,"h":0.778},
      {"e":162,"a":0.536,"b":0.762,"c":0.696,"d":0.769,"f":0.773,"o":0.776,"l":0.774,"h":0.778},
      {"e":165,"a":0.54,"b":0.762,"c":0.697,"d":0.769,"f":0.774,"o":0.777,"l":0.775,"h":0.779},
      {"e":170,"a":0.537,"b":0.763,"c":0.696,"d":0.769,"f":0.774,"o":0.777,"l":0.775,"h":0.779},
      {"e":175,"a":0.542,"b":0.763,"c":0.695,"d":0.77,"f":0.774,"o":0.777,"l":0.775,"h":0.779},
      {"e":180,"a":0.544,"b":0.763,"c":0.694,"d":0.77,"f":0.774,"o":0.777,"l":0.775,"h":0.779},
      {"e":185,"a":0.539,"b":0.763,"c":0.695,"d":0.77,"f":0.774,"o":0.777,"l":0.775,"h":0.779},
      {"e":190,"a":0.544,"b":0.764,"c":0.694,"d":0.77,"f":0.774,"o":0.777,"l":0.775,"h":0.779},
      {"e":195,"a":0.538,"b":0.764,"c":0.693,"d":0.77,"f":0.774,"o":0.778,"l":0.776,"h":0.78},
      {"e":200,"a":0.543,"b":0.764,"c":0.694,"d":0.77,"f":0.775,"o":0.777,"l":0.775,"h":0.779},
      {"e":205,"a":0.545,"b":0.764,"c":0.692,"d":0.77,"f":0.775,"o":0.778,"l":0.776,"h":0.78},
      {"e":210,"a":0.54,"b":0.764,"c":0.693,"d":0.77,"f":0.775,"o":0.777,"l":0.775,"h":0.779},
      {"e":215,"a":0.546,"b":0.764,"c":0.691,"d":0.771,"f":0.775,"o":0.778,"l":0.776,"h":0.78},
      {"e":220,"a":0.545,"b":0.764,"c":0.692,"d":0.771,"f":0.775,"o":0.778,"l":0.776,"h":0.78},
      {"e":225,"a":0.547,"b":0.764,"c":0.69,"d":0.771,"f":0.775,"o":0.778,"l":0.776,"h":0.78},
      {"e":230,"a":0.546,"b":0.765,"c":0.691,"d":0.771,"f":0.775,"o":0.778,"l":0.776,"h":0.78},
      {"e":235,"a":0.548,"b":0.765,"c":0.689,"d":0.771,"f":0.775,"o":0.778,"l":0.776,"h":0.78},
      {"e":240,"a":0.547,"b":0.765,"c":0.69,"d":0.771,"f":0.775,"o":0.778,"l":0.776,"h":0.78},
      {"e":245,"a":0.549,"b":0.765,"c":0.691,"d":0.771,"f":0.775,"o":0.779,"l":0.777,"h":0.781},
      {"e":250,"a":0.548,"b":0.765,"c":0.689,"d":0.771,"f":0.775,"o":0.778,"l":0.776,"h":0.78},
      {"e":255,"a":0.55,"b":0.765,"c":0.69,"d":0.771,"f":0.775,"o":0.779,"l":0.777,"h":0.781},
      {"e":260,"a":0.549,"b":0.765,"c":0.689,"d":0.771,"f":0.775,"o":0.778,"l":0.776,"h":0.78},
      {"e":265,"a":0.551,"b":0.765,"c":0.69,"d":0.771,"f":0.775,"o":0.779,"l":0.777,"h":0.781},
      {"e":270,"a":0.55,"b":0.765,"c":0.688,"d":0.771,"f":0.775,"o":0.779,"l":0.777,"h":0.781},
      {"e":275,"a":0.551,"b":0.765,"c":0.69,"d":0.771,"f":0.775,"o":0.779,"l":0.777,"h":0.781},
      {"e":280,"a":0.55,"b":0.765,"c":0.689,"d":0.771,"f":0.775,"o":0.779,"l":0.777,"h":0.781},
      {"e":285,"a":0.552,"b":0.765,"c":0.69,"d":0.771,"f":0.775,"o":0.779,"l":0.777,"h":0.781},
      {"e":290,"a":0.551,"b":0.765,"c":0.688,"d":0.771,"f":0.775,"o":0.779,"l":0.777,"h":0.781},
      {"e":295,"a":0.552,"b":0.765,"c":0.689,"d":0.771,"f":0.775,"o":0.779,"l":0.777,"h":0.781},
      {"e":300,"a":0.551,"b":0.765,"c":0.688,"d":0.771,"f":0.775,"o":0.779,"l":0.777,"h":0.781}
    ],
    "br": [
      {"e":0,"a":0.35,"b":0.35,"c":0.34,"d":0.34,"f":0.33,"o":0.45,"l":0.44,"h":0.46},
      {"e":1,"a":0.38,"b":0.38,"c":0.37,"d":0.37,"f":0.36,"o":0.48,"l":0.47,"h":0.49},
      {"e":2,"a":0.41,"b":0.41,"c":0.4,"d":0.4,"f":0.39,"o":0.5,"l":0.49,"h":0.51},
      {"e":3,"a":0.43,"b":0.43,"c":0.42,"d":0.42,"f":0.41,"o":0.52,"l":0.51,"h":0.53},
      {"e":4,"a":0.45,"b":0.45,"c":0.44,"d":0.44,"f":0.43,"o":0.54,"l":0.53,"h":0.55},
      {"e":6,"a":0.48,"b":0.48,"c":0.47,"d":0.47,"f":0.46,"o":0.565,"l":0.55,"h":0.58},
      {"e":8,"a":0.51,"b":0.51,"c":0.5,"d":0.5,"f":0.49,"o":0.585,"l":0.57,"h":0.6},
      {"e":10,"a":0.54,"b":0.535,"c":0.53,"d":0.525,"f":0.52,"o":0.6,"l":0.585,"h":0.615},
      {"e":12,"a":0.56,"b":0.555,"c":0.55,"d":0.545,"f":0.54,"o":0.612,"l":0.597,"h":0.627},
      {"e":14,"a":0.575,"b":0.57,"c":0.568,"d":0.562,"f":0.555,"o":0.62,"l":0.605,"h":0.635},
      {"e":16,"a":0.59,"b":0.585,"c":0.58,"d":0.578,"f":0.565,"o":0.627,"l":0.612,"h":0.642},
      {"e":18,"a":0.602,"b":0.598,"c":0.592,"d":0.59,"f":0.58,"o":0.632,"l":0.617,"h":0.647},
      {"e":20,"a":0.61,"b":0.605,"c":0.6,"d":0.597,"f":0.595,"o":0.636,"l":0.621,"h":0.651},
      {"e":22,"a":0.6,"b":0.612,"c":0.606,"d":0.603,"f":0.588,"o":0.64,"l":0.625,"h":0.655},
      {"e":24,"a":0.617,"b":0.61,"c":0.614,"d":0.608,"f":0.602,"o":0.638,"l":0.623,"h":0.653},
      {"e":26,"a":0.613,"b":0.621,"c":0.61,"d":0.616,"f":0.596,"o":0.645,"l":0.63,"h":0.66},
      {"e":28,"a":0.625,"b":0.618,"c":0.622,"d":0.612,"f":0.61,"o":0.65,"l":0.635,"h":0.665},
      {"e":30,"a":0.63,"b":0.628,"c":0.618,"d":0.624,"f":0.6,"o":0.654,"l":0.639,"h":0.669},
      {"e":32,"a":0.624,"b":0.632,"c":0.628,"d":0.62,"f":0.615,"o":0.65,"l":0.635,"h":0.665},
      {"e":34,"a":0.636,"b":0.628,"c":0.634,"d":0.63,"f":0.605,"o":0.652,"l":0.637,"h":0.667},
      {"e":36,"a":0.64,"b":0.638,"c":0.63,"d":0.636,"f":0.625,"o":0.656,"l":0.641,"h":0.671},
      {"e":38,"a":0.634,"b":0.642,"c":0.64,"d":0.632,"f":0.61,"o":0.654,"l":0.639,"h":0.669},
      {"e":40,"a":0.645,"b":0.64,"c":0.645,"d":0.641,"f":0.63,"o":0.658,"l":0.643,"h":0.673},
      {"e":42,"a":0.642,"b":0.648,"c":0.64,"d":0.646,"f":0.618,"o":0.66,"l":0.645,"h":0.675},
      {"e":44,"a":0.65,"b":0.645,"c":0.649,"d":0.642,"f":0.638,"o":0.655,"l":0.64,"h":0.67},
      {"e":46,"a":0.644,"b":0.652,"c":0.646,"d":0.65,"f":0.62,"o":0.661,"l":0.646,"h":0.676},
      {"e":48,"a":0.652,"b":0.648,"c":0.654,"d":0.646,"f":0.642,"o":0.66,"l":0.645,"h":0.675},
      {"e":50,"a":0.648,"b":0.655,"c":0.65,"d":0.653,"f":0.63,"o":0.663,"l":0.648,"h":0.678},
      {"e":52,"a":0.655,"b":0.651,"c":0.657,"d":0.649,"f":0.645,"o":0.664,"l":0.649,"h":0.679},
      {"e":54,"a":0.66,"b":0.657,"c":0.652,"d":0.656,"f":0.635,"o":0.662,"l":0.647,"h":0.677},
      {"e":56,"a":0.652,"b":0.662,"c":0.658,"d":0.65,"f":0.648,"o":0.666,"l":0.651,"h":0.681},
      {"e":58,"a":0.645,"b":0.65,"c":0.648,"d":0.652,"f":0.64,"o":0.662,"l":0.645,"h":0.679},
      {"e":59,"a":0.636,"b":0.64,"c":0.638,"d":0.642,"f":0.633,"o":0.648,"l":0.625,"h":0.665},
      {"e":60,"a":0.7,"b":0.702,"c":0.704,"d":0.706,"f":0.71,"o":0.7,"l":0.69,"h":0.71},
      {"e":61,"a":0.716,"b":0.718,"c":0.72,"d":0.722,"f":0.73,"o":0.716,"l":0.708,"h":0.724},
      {"e":62,"a":0.72,"b":0.722,"c":0.721,"d":0.724,"f":0.728,"o":0.717,"l":0.709,"h":0.725},
      {"e":64,"a":0.718,"b":0.72,"c":0.723,"d":0.721,"f":0.726,"o":0.715,"l":0.707,"h":0.723},
      {"e":66,"a":0.719,"b":0.717,"c":0.72,"d":0.723,"f":0.723,"o":0.713,"l":0.705,"h":0.721},
      {"e":68,"a":0.716,"b":0.72,"c":0.718,"d":0.72,"f":0.725,"o":0.712,"l":0.704,"h":0.72},
      {"e":70,"a":0.717,"b":0.716,"c":0.72,"d":0.721,"f":0.721,"o":0.713,"l":0.705,"h":0.721},
      {"e":72,"a":0.714,"b":0.718,"c":0.717,"d":0.72,"f":0.723,"o":0.711,"l":0.703,"h":0.719},
      {"e":74,"a":0.716,"b":0.715,"c":0.719,"d":0.717,"f":0.72,"o":0.712,"l":0.704,"h":0.72},
      {"e":76,"a":0.713,"b":0.717,"c":0.715,"d":0.72,"f":0.722,"o":0.71,"l":0.702,"h":0.718},
      {"e":78,"a":0.715,"b":0.713,"c":0.718,"d":0.716,"f":0.719,"o":0.711,"l":0.703,"h":0.719},
      {"e":80,"a":0.712,"b":0.716,"c":0.714,"d":0.719,"f":0.721,"o":0.709,"l":0.701,"h":0.717},
      {"e":82,"a":0.714,"b":0.712,"c":0.717,"d":0.715,"f":0.718,"o":0.71,"l":0.702,"h":0.718},
      {"e":84,"a":0.711,"b":0.715,"c":0.713,"d":0.718,"f":0.72,"o":0.708,"l":0.7,"h":0.716},
      {"e":86,"a":0.713,"b":0.711,"c":0.716,"d":0.714,"f":0.717,"o":0.709,"l":0.701,"h":0.717},
      {"e":88,"a":0.71,"b":0.714,"c":0.712,"d":0.717,"f":0.719,"o":0.707,"l":0.699,"h":0.715},
      {"e":90,"a":0.712,"b":0.71,"c":0.715,"d":0.713,"f":0.716,"o":0.709,"l":0.701,"h":0.717},
      {"e":92,"a":0.709,"b":0.713,"c":0.711,"d":0.716,"f":0.718,"o":0.708,"l":0.7,"h":0.716},
      {"e":94,"a":0.711,"b":0.709,"c":0.714,"d":0.712,"f":0.715,"o":0.707,"l":0.699,"h":0.715},
      {"e":96,"a":0.709,"b":0.712,"c":0.71,"d":0.715,"f":0.717,"o":0.708,"l":0.7,"h":0.716},
      {"e":98,"a":0.71,"b":0.708,"c":0.713,"d":0.711,"f":0.714,"o":0.706,"l":0.698,"h":0.714},
      {"e":100,"a":0.708,"b":0.711,"c":0.709,"d":0.714,"f":0.716,"o":0.707,"l":0.699,"h":0.715},
      {"e":102,"a":0.71,"b":0.708,"c":0.712,"d":0.71,"f":0.713,"o":0.705,"l":0.697,"h":0.713},
      {"e":104,"a":0.707,"b":0.71,"c":0.708,"d":0.713,"f":0.715,"o":0.706,"l":0.698,"h":0.714},
      {"e":106,"a":0.709,"b":0.707,"c":0.711,"d":0.709,"f":0.712,"o":0.703,"l":0.695,"h":0.711},
      {"e":108,"a":0.707,"b":0.709,"c":0.707,"d":0.712,"f":0.714,"o":0.702,"l":0.694,"h":0.71},
      {"e":110,"a":0.708,"b":0.706,"c":0.71,"d":0.708,"f":0.711,"o":0.706,"l":0.698,"h":0.714},
      {"e":112,"a":0.706,"b":0.709,"c":0.707,"d":0.711,"f":0.713,"o":0.705,"l":0.697,"h":0.713},
      {"e":114,"a":0.708,"b":0.706,"c":0.709,"d":0.707,"f":0.71,"o":0.706,"l":0.698,"h":0.714},
      {"e":116,"a":0.706,"b":0.708,"c":0.706,"d":0.71,"f":0.712,"o":0.705,"l":0.697,"h":0.713},
      {"e":118,"a":0.707,"b":0.706,"c":0.709,"d":0.707,"f":0.71,"o":0.706,"l":0.698,"h":0.714},
      {"e":119,"a":0.707,"b":0.708,"c":0.708,"d":0.709,"f":0.71,"o":0.707,"l":0.699,"h":0.715},
      {"e":120,"a":0.713,"b":0.714,"c":0.714,"d":0.715,"f":0.714,"o":0.716,"l":0.71,"h":0.722},
      {"e":121,"a":0.717,"b":0.718,"c":0.718,"d":0.719,"f":0.717,"o":0.721,"l":0.716,"h":0.726},
      {"e":122,"a":0.718,"b":0.719,"c":0.72,"d":0.72,"f":0.718,"o":0.723,"l":0.718,"h":0.728},
      {"e":124,"a":0.719,"b":0.72,"c":0.721,"d":0.722,"f":0.719,"o":0.725,"l":0.721,"h":0.729},
      {"e":126,"a":0.72,"b":0.719,"c":0.722,"d":0.721,"f":0.72,"o":0.726,"l":0.722,"h":0.73},
      {"e":128,"a":0.718,"b":0.721,"c":0.72,"d":0.723,"f":0.718,"o":0.726,"l":0.722,"h":0.73},
      {"e":130,"a":0.72,"b":0.719,"c":0.722,"d":0.721,"f":0.72,"o":0.727,"l":0.723,"h":0.731},
      {"e":135,"a":0.721,"b":0.722,"c":0.72,"d":0.723,"f":0.719,"o":0.727,"l":0.723,"h":0.731},
      {"e":140,"a":0.719,"b":0.72,"c":0.723,"d":0.721,"f":0.721,"o":0.727,"l":0.723,"h":0.731},
      {"e":145,"a":0.721,"b":0.718,"c":0.721,"d":0.724,"f":0.719,"o":0.728,"l":0.724,"h":0.732},
      {"e":150,"a":0.719,"b":0.721,"c":0.723,"d":0.722,"f":0.72,"o":0.728,"l":0.724,"h":0.732},
      {"e":155,"a":0.72,"b":0.719,"c":0.721,"d":0.724,"f":0.718,"o":0.728,"l":0.724,"h":0.732},
      {"e":158,"a":0.721,"b":0.721,"c":0.723,"d":0.722,"f":0.72,"o":0.728,"l":0.724,"h":0.732},
      {"e":159,"a":0.72,"b":0.72,"c":0.722,"d":0.723,"f":0.719,"o":0.729,"l":0.725,"h":0.733},
      {"e":160,"a":0.719,"b":0.722,"c":0.721,"d":0.722,"f":0.721,"o":0.729,"l":0.725,"h":0.733},
      {"e":161,"a":0.721,"b":0.72,"c":0.723,"d":0.724,"f":0.719,"o":0.729,"l":0.725,"h":0.733},
      {"e":162,"a":0.72,"b":0.721,"c":0.722,"d":0.722,"f":0.72,"o":0.729,"l":0.725,"h":0.733},
      {"e":165,"a":0.718,"b":0.72,"c":0.724,"d":0.723,"f":0.718,"o":0.729,"l":0.725,"h":0.733},
      {"e":170,"a":0.721,"b":0.722,"c":0.721,"d":0.725,"f":0.72,"o":0.729,"l":0.725,"h":0.733},
      {"e":175,"a":0.719,"b":0.719,"c":0.723,"d":0.722,"f":0.719,"o":0.73,"l":0.726,"h":0.734},
      {"e":180,"a":0.721,"b":0.721,"c":0.722,"d":0.724,"f":0.721,"o":0.73,"l":0.726,"h":0.734},
      {"e":185,"a":0.72,"b":0.72,"c":0.724,"d":0.723,"f":0.718,"o":0.73,"l":0.726,"h":0.734},
      {"e":190,"a":0.718,"b":0.722,"c":0.721,"d":0.725,"f":0.72,"o":0.729,"l":0.725,"h":0.733},
      {"e":195,"a":0.721,"b":0.719,"c":0.723,"d":0.722,"f":0.719,"o":0.73,"l":0.726,"h":0.734},
      {"e":200,"a":0.72,"b":0.721,"c":0.722,"d":0.724,"f":0.721,"o":0.73,"l":0.726,"h":0.734},
      {"e":205,"a":0.721,"b":0.72,"c":0.724,"d":0.726,"f":0.719,"o":0.73,"l":0.726,"h":0.734},
      {"e":210,"a":0.719,"b":0.722,"c":0.721,"d":0.723,"f":0.72,"o":0.731,"l":0.727,"h":0.735},
      {"e":215,"a":0.72,"b":0.719,"c":0.723,"d":0.725,"f":0.718,"o":0.73,"l":0.726,"h":0.734},
      {"e":220,"a":0.721,"b":0.721,"c":0.722,"d":0.723,"f":0.72,"o":0.731,"l":0.727,"h":0.735},
      {"e":225,"a":0.719,"b":0.72,"c":0.724,"d":0.725,"f":0.719,"o":0.731,"l":0.727,"h":0.735},
      {"e":230,"a":0.72,"b":0.722,"c":0.721,"d":0.723,"f":0.72,"o":0.731,"l":0.727,"h":0.735},
      {"e":235,"a":0.721,"b":0.719,"c":0.723,"d":0.725,"f":0.718,"o":0.731,"l":0.727,"h":0.735},
      {"e":240,"a":0.719,"b":0.721,"c":0.722,"d":0.723,"f":0.72,"o":0.731,"l":0.727,"h":0.735},
      {"e":245,"a":0.72,"b":0.72,"c":0.724,"d":0.725,"f":0.719,"o":0.73,"l":0.726,"h":0.734},
      {"e":250,"a":0.721,"b":0.722,"c":0.721,"d":0.723,"f":0.72,"o":0.731,"l":0.727,"h":0.735},
      {"e":255,"a":0.719,"b":0.719,"c":0.723,"d":0.725,"f":0.718,"o":0.731,"l":0.727,"h":0.735},
      {"e":260,"a":0.72,"b":0.721,"c":0.722,"d":0.723,"f":0.72,"o":0.73,"l":0.726,"h":0.734},
      {"e":265,"a":0.721,"b":0.72,"c":0.724,"d":0.725,"f":0.719,"o":0.731,"l":0.727,"h":0.735},
      {"e":270,"a":0.719,"b":0.722,"c":0.721,"d":0.723,"f":0.72,"o":0.731,"l":0.727,"h":0.735},
      {"e":275,"a":0.72,"b":0.719,"c":0.723,"d":0.725,"f":0.718,"o":0.73,"l":0.726,"h":0.734},
      {"e":280,"a":0.721,"b":0.721,"c":0.722,"d":0.723,"f":0.72,"o":0.731,"l":0.727,"h":0.735},
      {"e":285,"a":0.719,"b":0.72,"c":0.724,"d":0.725,"f":0.719,"o":0.731,"l":0.727,"h":0.735},
      {"e":290,"a":0.72,"b":0.722,"c":0.721,"d":0.723,"f":0.72,"o":0.73,"l":0.726,"h":0.734},
      {"e":295,"a":0.721,"b":0.719,"c":0.723,"d":0.725,"f":0.718,"o":0.731,"l":0.727,"h":0.735},
      {"e":300,"a":0.72,"b":0.72,"c":0.722,"d":0.724,"f":0.719,"o":0.731,"l":0.727,"h":0.735}
    ]
  },
  "vconcat": [
    {
      "title": {"text": "Let the Optimizers Optimize Themselves", "fontSize": 18, "fontWeight": "bold", "anchor": "middle", "offset": -4},
      "width": 979,
      "height": 2,
      "view": {"fill": "#000000", "stroke": null},
      "data": {"values": [{}]},
      "mark": {"type": "text", "text": ""},
      "encoding": {}
    },
    {
      "resolve": {"scale": {"color": "independent"}, "legend": {"color": "independent"}},
      "hconcat": [
        {
          "width": 1,
          "height": 1,
          "view": {"stroke": null},
          "data": {"values": [{}]},
          "mark": {"type": "text", "text": ""},
          "encoding": {}
        },
        {
          "columns": 2,
          "align": "none",
          "bounds": "full",
          "spacing": {"row": 2, "column": 56},
          "resolve": {"scale": {"color": "independent"}, "legend": {"color": "independent"}},
          "concat": [
            {
              "width": 404,
              "height": 171,
              "data": {"name": "tl"},
              "encoding": {"x": {"field": "e", "type": "quantitative", "scale": {"domain": [0, 310], "nice": false, "zero": false}, "axis": {"values": [0, 50, 100, 150, 200, 250, 300]}, "title": "Epochs"}},
              "layer": [
                {
                  "transform": [{"fold": ["a", "b", "c", "d", "f"], "as": ["k", "v"]}],
                  "mark": {"type": "line", "strokeWidth": 1.6, "clip": true},
                  "encoding": {
                    "y": {"field": "v", "type": "quantitative", "title": "Train Loss (log scale)", "scale": {"domain": [-2.29, 0.75], "nice": false, "zero": false}, "axis": {"values": [-2, -1, 0], "format": "d", "minExtent": 25, "maxExtent": 25}},
                    "color": {"field": "k", "type": "nominal", "scale": {"domain": ["a", "b", "c", "d", "f", "o"], "range": ["#0b3a6e", "#12579a", "#1767b6", "#1c87e5", "#5fa6f2", "#f7882f"]}, "legend": {"title": null, "orient": "top-right", "labelExpr": "datum.label == 'a' ? 'Baseline β = 0.99' : datum.label == 'b' ? 'Baseline β = 0.98' : datum.label == 'c' ? 'Baseline β = 0.95' : datum.label == 'd' ? 'Baseline β = 0.90' : datum.label == 'f' ? 'Baseline β = 0.80' : 'Ours'"}}
                  }
                },
                {
                  "mark": {"type": "area", "color": "#f7882f", "opacity": 0.45, "clip": true},
                  "encoding": {"y": {"field": "l", "type": "quantitative", "title": "Train Loss (log scale)"}, "y2": {"field": "h"}}
                },
                {
                  "transform": [{"fold": ["o"], "as": ["k", "v"]}],
                  "mark": {"type": "line", "strokeWidth": 1.6, "clip": true},
                  "encoding": {"y": {"field": "v", "type": "quantitative", "title": "Train Loss (log scale)"}, "color": {"field": "k", "type": "nominal"}}
                }
              ]
            },
            {
              "width": 393,
              "height": 171,
              "data": {"name": "tr"},
              "encoding": {"x": {"field": "e", "type": "quantitative", "scale": {"domain": [0, 310], "nice": false, "zero": false}, "axis": {"values": [0, 50, 100, 150, 200, 250, 300]}, "title": "Epochs"}},
              "layer": [
                {
                  "transform": [{"fold": ["a", "b", "c", "d", "f"], "as": ["k", "v"]}],
                  "mark": {"type": "line", "strokeWidth": 1.6, "clip": true},
                  "encoding": {
                    "y": {"field": "v", "type": "quantitative", "title": "Train Loss (log scale)", "scale": {"domain": [-2.12, 0.73], "nice": false, "zero": false}, "axis": {"values": [-2, -1.5, -1, -0.5, 0, 0.5], "format": ".1f", "minExtent": 36, "maxExtent": 36}},
                    "color": {"field": "k", "type": "nominal", "scale": {"domain": ["a", "b", "c", "d", "f", "o"], "range": ["#0e55a0", "#1467c0", "#1b7ee0", "#4c9cf0", "#93c1f6", "#f7882f"]}, "legend": {"title": null, "orient": "top-right", "labelExpr": "datum.label == 'a' ? 'Baseline β₁ = 0.99' : datum.label == 'b' ? 'Baseline β₁ = 0.98' : datum.label == 'c' ? 'Baseline β₁ = 0.95' : datum.label == 'd' ? 'Baseline β₁ = 0.90' : datum.label == 'f' ? 'Baseline β₁ = 0.80' : 'Ours'"}}
                  }
                },
                {
                  "mark": {"type": "area", "color": "#f7882f", "opacity": 0.45, "clip": true},
                  "encoding": {"y": {"field": "l", "type": "quantitative", "title": "Train Loss (log scale)"}, "y2": {"field": "h"}}
                },
                {
                  "transform": [{"fold": ["o"], "as": ["k", "v"]}],
                  "mark": {"type": "line", "strokeWidth": 1.6, "clip": true},
                  "encoding": {"y": {"field": "v", "type": "quantitative", "title": "Train Loss (log scale)"}, "color": {"field": "k", "type": "nominal"}}
                }
              ]
            },
            {
              "width": 404,
              "height": 167,
              "data": {"name": "bl"},
              "title": {"text": "(a) Training curve of SGD+M optimizers.", "orient": "bottom", "anchor": "middle", "frame": "bounds", "fontSize": 18, "fontWeight": "normal", "offset": 24},
              "encoding": {"x": {"field": "e", "type": "quantitative", "scale": {"domain": [0, 310], "nice": false, "zero": false}, "axis": {"values": [0, 50, 100, 150, 200, 250, 300]}, "title": "Epochs"}},
              "layer": [
                {
                  "transform": [{"fold": ["a", "b", "c", "d", "f"], "as": ["k", "v"]}],
                  "mark": {"type": "line", "strokeWidth": 1.6, "clip": true},
                  "encoding": {
                    "y": {"field": "v", "type": "quantitative", "title": "Test Accuracy", "scale": {"domain": [0.5, 0.8], "nice": false, "zero": false}, "axis": {"values": [0.5, 0.6, 0.7, 0.8], "format": ".1f", "minExtent": 26, "maxExtent": 26}},
                    "color": {"field": "k", "type": "nominal", "scale": {"domain": ["a", "b", "c", "d", "f", "o"], "range": ["#0b3a6e", "#12579a", "#1767b6", "#1c87e5", "#5fa6f2", "#f7882f"]}, "legend": {"title": null, "orient": "bottom-right", "labelExpr": "datum.label == 'a' ? 'Baseline β = 0.99' : datum.label == 'b' ? 'Baseline β = 0.98' : datum.label == 'c' ? 'Baseline β = 0.95' : datum.label == 'd' ? 'Baseline β = 0.90' : datum.label == 'f' ? 'Baseline β = 0.80' : 'Ours'"}}
                  }
                },
                {
                  "mark": {"type": "area", "color": "#f7882f", "opacity": 0.45, "clip": true},
                  "encoding": {"y": {"field": "l", "type": "quantitative", "title": "Test Accuracy"}, "y2": {"field": "h"}}
                },
                {
                  "transform": [{"fold": ["o"], "as": ["k", "v"]}],
                  "mark": {"type": "line", "strokeWidth": 1.6, "clip": true},
                  "encoding": {"y": {"field": "v", "type": "quantitative", "title": "Test Accuracy"}, "color": {"field": "k", "type": "nominal"}}
                }
              ]
            },
            {
              "width": 398,
              "height": 167,
              "data": {"name": "br"},
              "title": {"text": "(b) Training curve of Adam optimizers.", "orient": "bottom", "anchor": "middle", "frame": "bounds", "fontSize": 18, "fontWeight": "normal", "offset": 24, "dx": -7},
              "encoding": {"x": {"field": "e", "type": "quantitative", "scale": {"domain": [0, 310], "nice": false, "zero": false}, "axis": {"values": [0, 50, 100, 150, 200, 250, 300]}, "title": "Epochs"}},
              "layer": [
                {
                  "transform": [{"fold": ["a", "b", "c", "d", "f"], "as": ["k", "v"]}],
                  "mark": {"type": "line", "strokeWidth": 1.6, "clip": true},
                  "encoding": {
                    "y": {"field": "v", "type": "quantitative", "title": "Test Accuracy", "scale": {"domain": [0.6, 0.75], "nice": false, "zero": false}, "axis": {"values": [0.6, 0.65, 0.7, 0.75], "format": ".2f", "minExtent": 31, "maxExtent": 31}},
                    "color": {"field": "k", "type": "nominal", "scale": {"domain": ["a", "b", "c", "d", "f", "o"], "range": ["#0e55a0", "#1467c0", "#1b7ee0", "#4c9cf0", "#93c1f6", "#f7882f"]}, "legend": {"title": null, "orient": "bottom-right", "labelExpr": "datum.label == 'a' ? 'Baseline β₁ = 0.99' : datum.label == 'b' ? 'Baseline β₁ = 0.98' : datum.label == 'c' ? 'Baseline β₁ = 0.95' : datum.label == 'd' ? 'Baseline β₁ = 0.90' : datum.label == 'f' ? 'Baseline β₁ = 0.80' : 'Ours'"}}
                  }
                },
                {
                  "mark": {"type": "area", "color": "#f7882f", "opacity": 0.45, "clip": true},
                  "encoding": {"y": {"field": "l", "type": "quantitative", "title": "Test Accuracy"}, "y2": {"field": "h"}}
                },
                {
                  "transform": [{"fold": ["o"], "as": ["k", "v"]}],
                  "mark": {"type": "line", "strokeWidth": 1.6, "clip": true},
                  "encoding": {"y": {"field": "v", "type": "quantitative", "title": "Test Accuracy"}, "color": {"field": "k", "type": "nominal"}}
                }
              ]
            }
          ]
        }
      ],
      "spacing": 7
    }
  ],
  "spacing": 17
}
